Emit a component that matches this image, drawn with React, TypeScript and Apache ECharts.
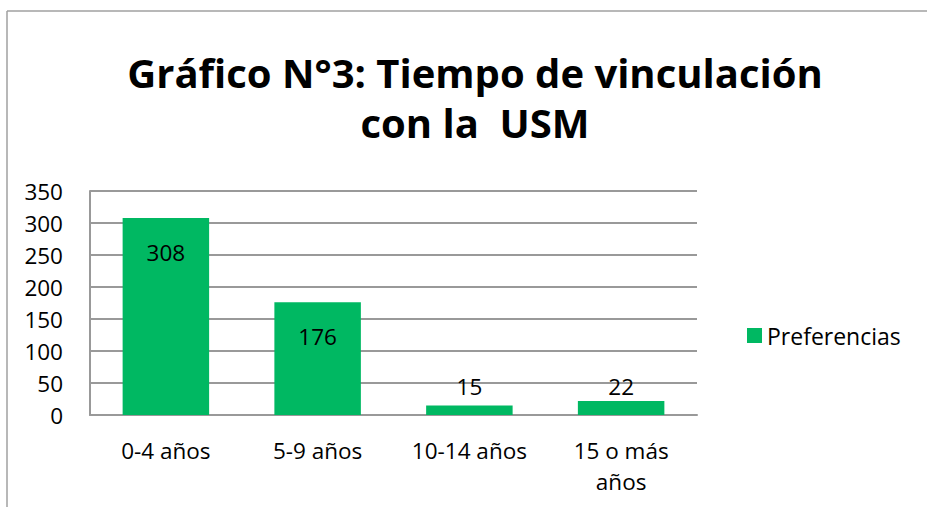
import React, { useEffect, useRef } from "react";
import * as echarts from "echarts";

const categories = ["0-4 años", "5-9 años", "10-14 años", "15 o más\naños"];
const values = [308, 176, 15, 22];
const seriesName = "Preferencias";
const titleText = "Gráfico N°3: Tiempo de vinculación\ncon la  USM";

const GREEN = "#00B862";
const FONT = "'Open Sans', 'Noto Sans', sans-serif";
const FS = 22.5;

export default function App() {
  const ref = useRef<HTMLDivElement>(null);
  useEffect(() => {
    if (!ref.current) return;
    const chart = echarts.init(ref.current, undefined, { renderer: "svg" });
    const data = values.map((v) => {
      const small = v < 50;
      return {
        value: v,
        label: small
          ? { position: "top", distance: v < 20 ? 7 : 3 }
          : { position: "insideTop", distance: 23 },
      };
    });
    chart.setOption({
      animation: false,
      backgroundColor: "#fff",
      textStyle: { fontFamily: FONT },
      title: {
        text: titleText,
        left: 470,
        top: 42,
        textAlign: "center",
        textStyle: {
          fontFamily: FONT,
          fontWeight: "bold",
          fontSize: 40,
          lineHeight: 50,
          color: "#000",
        },
      },
      legend: {
        data: [seriesName],
        left: 742,
        top: 319,
        itemWidth: 15,
        itemHeight: 15,
        icon: "rect",
        textStyle: { fontFamily: FONT, fontSize: 23, color: "#000" },
      },
      grid: { left: 90, top: 191, right: 230, bottom: 92 },
      xAxis: {
        type: "category",
        data: categories,
        axisLine: { show: true, lineStyle: { color: "#999", width: 2 } },
        axisTick: { show: false },
        axisLabel: {
          fontFamily: FONT,
          fontSize: FS,
          color: "#000",
          margin: 20,
          lineHeight: 31,
          interval: 0,
        },
      },
      yAxis: {
        type: "value",
        min: 0,
        max: 350,
        interval: 50,
        axisLine: { show: true, lineStyle: { color: "#999", width: 2 } },
        axisTick: { show: false },
        splitLine: { show: true, lineStyle: { color: "#999", width: 2 } },
        axisLabel: {
          fontFamily: FONT,
          fontSize: FS,
          color: "#000",
          margin: 27,
          padding: [7, 0, 0, 0],
        },
      },
      graphic: [
        {
          type: "line",
          shape: { x1: 7, y1: 11, x2: 927, y2: 11 },
          style: { stroke: "#a0a0a0", lineWidth: 1.5 },
          silent: true,
        },
        {
          type: "line",
          shape: { x1: 7, y1: 11, x2: 7, y2: 507 },
          style: { stroke: "#a0a0a0", lineWidth: 1.5 },
          silent: true,
        },
      ],
      series: [
        {
          name: seriesName,
          type: "bar",
          data,
          barWidth: "57%",
          itemStyle: { color: GREEN },
          label: {
            show: true,
            fontFamily: FONT,
            fontSize: FS,
            color: "#000",
          },
        },
      ],
    });
    return () => chart.dispose();
  }, []);
  return (
    <div
      ref={ref}
      style={{ position: "fixed", left: 0, top: 0, width: 927, height: 507 }}
    />
  );
}
